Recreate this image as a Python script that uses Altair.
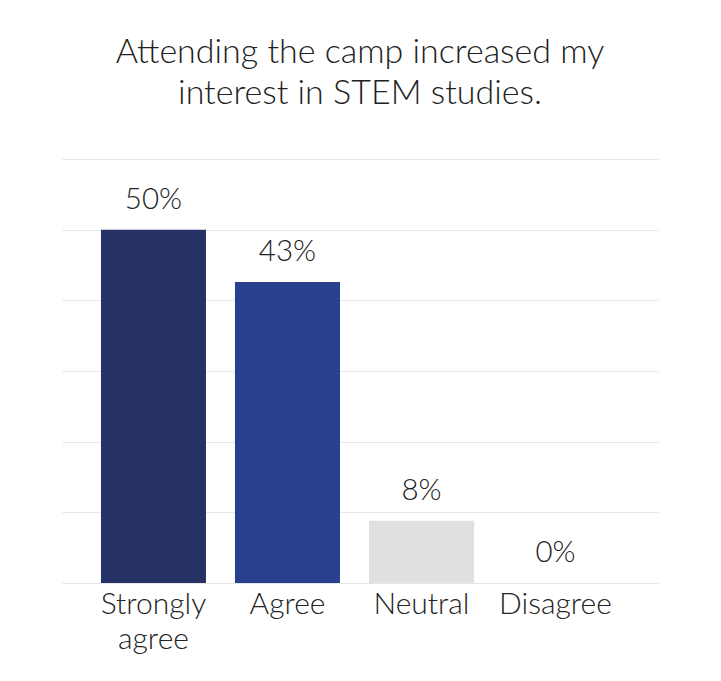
import altair as alt
import pandas as pd

categories = ["Strongly agree", "Agree", "Neutral", "Disagree"]
values = [50, 42.6, 8.8, 0]
labels = ["50%", "43%", "8%", "0%"]
colors = ["#263266", "#27418F", "#E0E0DF", "#E0E0DF"]

df = pd.DataFrame({"cat": categories, "val": values, "lab": labels})

FONT = "Lato"

x = alt.X("cat:N", sort=categories, title=None,
          scale=alt.Scale(paddingInner=0.2164, paddingOuter=0.332, align=0.438),
          axis=alt.Axis(labelAngle=0, labelFontSize=30, labelFont=FONT, labelColor="#222222",
                        labelFontWeight=300,
                        labelPadding=6, labelLineHeight=35, ticks=False, domain=False,
                        labelExpr="datum.label == 'Strongly agree' ? ['Strongly', 'agree'] : datum.label"))

bars = alt.Chart(df).mark_bar().encode(
    x=x,
    y=alt.Y("val:Q", scale=alt.Scale(domain=[0, 60]), title=None,
            axis=alt.Axis(values=[0, 10, 20, 30, 40, 50, 60], labels=False, ticks=False, domain=False,
                          grid=True, gridColor="#E6E6E6", gridWidth=1.2)),
    color=alt.Color("cat:N", sort=categories,
                    scale=alt.Scale(domain=categories, range=colors), legend=None),
)

text = alt.Chart(df).mark_text(fontSize=29.5, font=FONT, fontWeight=300, color="#222222",
                               baseline="alphabetic", dy=-21).encode(
    x=alt.X("cat:N", sort=categories),
    y=alt.Y("val:Q"),
    text="lab:N",
)

chart = (bars + text).properties(
    width=596,
    height=424,
    title=alt.TitleParams(["Attending the camp increased my", "interest in STEM studies."],
                          fontSize=34, font=FONT, fontWeight=300, color="#222222",
                          anchor="middle", lineHeight=41, offset=48),
    autosize=alt.AutoSizeParams(type="none"),
    padding={"left": 54, "top": 151, "right": 20, "bottom": 110},
).configure_view(stroke=None)

chart.save("out.html", embed_options={"renderer": "svg", "actions": False})
